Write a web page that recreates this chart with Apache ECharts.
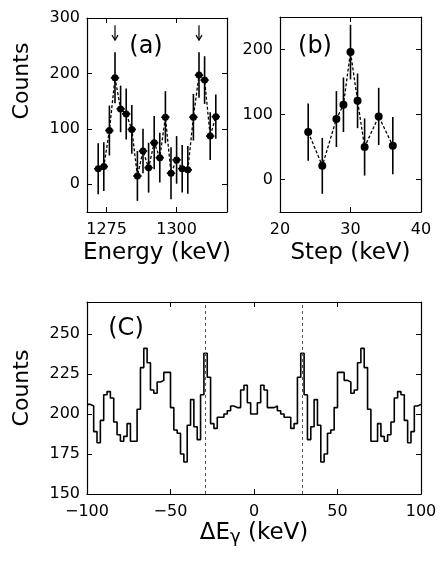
<!DOCTYPE html>
<html><head><meta charset="utf-8">
<script src="https://cdn.jsdelivr.net/npm/echarts@6/dist/echarts.min.js"></script>
<style>html,body{margin:0;padding:0;background:#fff}#c{width:442px;height:562px}</style>
</head><body><div id="c"></div>
<script>
// ---- Panel (a): Energy spectrum ----
const energyA = [1272,1274,1276,1278,1280,1282,1284,1286,1288,1290,1292,1294,1296,1298,1300,1302,1304,1306,1308,1310,1312,1314];
const countsA = [28,32,97,192,136,127,99,15,60,30,75,48,121,20,44,28,26,121,197,188,87,122];
const errA    = [46,44,45,46,42,46,44,45,40,45,48,45,47,47,43,43,43,42,41,43,43,40];
const xErrA = 1.5;
const arrowsA = [1278, 1308];
const arrowTop = 287, arrowTip = 260;
const xTicksA = [1275, 1300];
const yTicksA = [0, 100, 200, 300];

// ---- Panel (b): Step ----
const stepB   = [24,26,28,29,30,31,32,34,36];
const countsB = [73,21,93,115,196,121,50,97,52];
const errB    = [44,43,43,42,42,42,44,44,44];
const xTicksB = [20, 30, 40];
const yTicksB = [0, 100, 200];

// ---- Panel (c): ΔE histogram ----
const histStart = -100, histBin = 2;
const histCounts = [
 206,205,189,182,196,212,214,210,195,187,183,186,194,183,183,203,229,241,232,215,
 213,220,221,226,226,204,190,188,175,170,193,209,192,184,212,238,223,194,191,198,
 198,200,202,205,204,204,215,218,207,200,
 200,207,218,215,204,204,205,202,200,198,198,191,194,223,238,212,184,192,209,193,
 170,175,188,190,204,226,226,221,220,213,215,232,241,229,203,183,183,194,186,183,
 187,195,210,214,212,196,182,189,205,206];
const dashedC = [-29, 29];
const xTicksC = [-100, -50, 0, 50, 100];
const yTicksC = [150, 175, 200, 225, 250];

const FONT = 'DejaVu Sans';
const black = '#000';
const fmt = v => String(v).replace('-', '\u2212');

function xAx(gi, min, max, ticks, pos, name, nameGap, extra) {
  const a = {
    type: 'value', gridIndex: gi, min, max, position: pos,
    axisLine: {show: true, onZero: false, lineStyle: {color: black, width: 1.2}},
    axisTick: {show: true, inside: true, length: 5, customValues: ticks, lineStyle: {color: black, width: 1}},
    axisLabel: {show: pos === 'bottom', customValues: ticks, formatter: fmt, margin: 10, color: black, fontSize: 16, fontFamily: FONT},
    splitLine: {show: false}
  };
  if (name) {
    a.name = name; a.nameLocation = 'middle'; a.nameGap = nameGap;
    a.nameTextStyle = Object.assign({color: black, fontSize: 23, fontFamily: FONT}, extra || {});
  }
  return a;
}
function yAx(gi, min, max, ticks, pos) {
  return {
    type: 'value', gridIndex: gi, min, max, position: pos,
    axisLine: {show: true, onZero: false, lineStyle: {color: black, width: 1.2}},
    axisTick: {show: true, inside: true, length: 5, customValues: ticks, lineStyle: {color: black, width: 1}},
    axisLabel: {show: pos === 'left', customValues: ticks, formatter: fmt, margin: 7, color: black, fontSize: 16, fontFamily: FONT},
    splitLine: {show: false}
  };
}

function errRender(xerr) {
  return function (params, api) {
    const x = api.value(0), y = api.value(1), e = api.value(2);
    const t = api.coord([x, y + e]), b = api.coord([x, y - e]);
    const ch = [{type: 'line', shape: {x1: t[0], y1: t[1], x2: b[0], y2: b[1]}, style: {stroke: black, lineWidth: 1.6}}];
    if (xerr) {
      const l = api.coord([x - xerr, y]), r = api.coord([x + xerr, y]);
      ch.push({type: 'line', shape: {x1: l[0], y1: l[1], x2: r[0], y2: r[1]}, style: {stroke: black, lineWidth: 1.6}});
    }
    return {type: 'group', children: ch};
  };
}

const histData = histCounts.map((v, i) => [histStart + i * histBin, v]);
histData.push([histStart + histCounts.length * histBin, histCounts[histCounts.length - 1]]);

const chart = echarts.init(document.getElementById('c'), null, {renderer: 'canvas'});
chart.setOption({
  animation: false,
  backgroundColor: '#fff',
  grid: [
    {left: 87, top: 18, width: 140, height: 194},
    {left: 280, top: 17, width: 141, height: 195},
    {left: 87, top: 302, width: 334, height: 192}
  ],
  xAxis: [
    xAx(0, 1268, 1318, xTicksA, 'bottom', 'Energy (keV)', 30),
    xAx(0, 1268, 1318, xTicksA, 'top'),
    xAx(1, 20, 40, xTicksB, 'bottom', 'Step (keV)', 30),
    xAx(1, 20, 40, xTicksB, 'top'),
    xAx(2, -100, 100, xTicksC, 'bottom', 'ΔE{g|γ} (keV)', 26, {rich: {g: {fontSize: 18, fontFamily: FONT, color: black, verticalAlign: 'bottom', padding: [8, 0, 0, 0]}}}),
    xAx(2, -100, 100, xTicksC, 'top')
  ],
  yAxis: [
    yAx(0, -50, 300, yTicksA, 'left'),
    yAx(0, -50, 300, yTicksA, 'right'),
    yAx(1, -50, 250, yTicksB, 'left'),
    yAx(1, -50, 250, yTicksB, 'right'),
    yAx(2, 150, 270, yTicksC, 'left'),
    yAx(2, 150, 270, yTicksC, 'right')
  ],
  series: [
    {type: 'custom', xAxisIndex: 0, yAxisIndex: 0, renderItem: errRender(xErrA),
     data: energyA.map((x, i) => [x, countsA[i], errA[i]]), z: 2},
    {type: 'line', xAxisIndex: 0, yAxisIndex: 0, data: energyA.map((x, i) => [x, countsA[i]]),
     symbol: 'circle', symbolSize: 7, itemStyle: {color: black},
     lineStyle: {color: black, width: 1.3, type: [3, 2]}, z: 3},
    {type: 'custom', xAxisIndex: 0, yAxisIndex: 0, z: 3,
     renderItem: function (params, api) {
       const x = api.value(0);
       const t = api.coord([x, api.value(1)]), b = api.coord([x, api.value(2)]);
       return {type: 'group', children: [
         {type: 'line', shape: {x1: t[0], y1: t[1], x2: b[0], y2: b[1]}, style: {stroke: black, lineWidth: 1.2}},
         {type: 'polyline', shape: {points: [[b[0] - 3, b[1] - 5], [b[0], b[1]], [b[0] + 3, b[1] - 5]]}, style: {stroke: black, lineWidth: 1.2, fill: null}}
       ]};
     },
     data: arrowsA.map(x => [x, arrowTop, arrowTip])},
    {type: 'custom', xAxisIndex: 2, yAxisIndex: 2, renderItem: errRender(0),
     data: stepB.map((x, i) => [x, countsB[i], errB[i]]), z: 2},
    {type: 'line', xAxisIndex: 2, yAxisIndex: 2, data: stepB.map((x, i) => [x, countsB[i]]),
     symbol: 'circle', symbolSize: 8, itemStyle: {color: black},
     lineStyle: {color: black, width: 1.3, type: [3, 2]}, z: 3},
    {type: 'line', xAxisIndex: 4, yAxisIndex: 4, data: histData, step: 'end',
     symbol: 'none', lineStyle: {color: black, width: 1.6},
     markLine: {silent: true, symbol: 'none', label: {show: false},
       lineStyle: {color: '#555', width: 1, type: [3, 3]},
       data: dashedC.map(v => ({xAxis: v}))}}
  ],
  graphic: [
    {type: 'text', x: 146, y: 47, style: {text: '(a)', font: '24px "DejaVu Sans"', fill: black, textAlign: 'center', textVerticalAlign: 'middle'}},
    {type: 'text', x: 315, y: 47, style: {text: '(b)', font: '24px "DejaVu Sans"', fill: black, textAlign: 'center', textVerticalAlign: 'middle'}},
    {type: 'text', x: 126, y: 329, style: {text: '(C)', font: '24px "DejaVu Sans"', fill: black, textAlign: 'center', textVerticalAlign: 'middle'}},
    {type: 'text', x: 22, y: 81, rotation: Math.PI / 2, style: {text: 'Counts', font: '22px "DejaVu Sans"', fill: black, textAlign: 'center', textVerticalAlign: 'middle'}},
    {type: 'text', x: 22, y: 388, rotation: Math.PI / 2, style: {text: 'Counts', font: '22px "DejaVu Sans"', fill: black, textAlign: 'center', textVerticalAlign: 'middle'}}
  ]
});
</script></body></html>
